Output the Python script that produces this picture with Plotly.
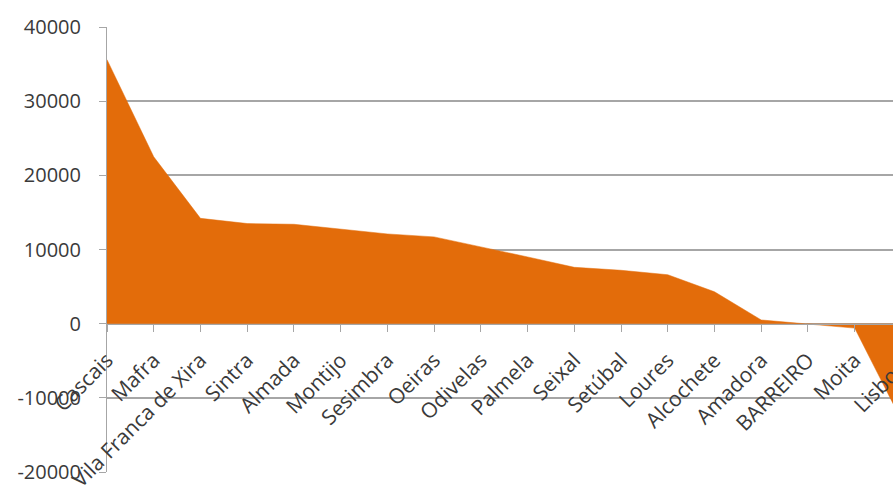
import plotly.graph_objects as go

categories = ["Cascais", "Mafra", "Vila Franca de Xira", "Sintra", "Almada", "Montijo",
              "Sesimbra", "Oeiras", "Odivelas", "Palmela", "Seixal", "Setúbal", "Loures",
              "Alcochete", "Amadora", "BARREIRO", "Moita", "Lisboa"]
values = [35600, 22500, 14200, 13500, 13400, 12700, 12100, 11700, 10400, 9000,
          7600, 7200, 6600, 4300, 500, -100, -600, -13000]
y_ticks = [-20000, -10000, 0, 10000, 20000, 30000, 40000]

orange = "#E36C0A"
grid = "#A6A6A6"
txt = "#3a3a3a"
x_max = 16.82

fig = go.Figure()
fig.add_trace(go.Scatter(
    x=categories, y=values, mode="lines", fill="tozeroy",
    line=dict(color=orange, width=0.5), fillcolor=orange, showlegend=False,
))

# last category label lies past the visible edge; draw it as a clipped rotated label
fig.add_annotation(
    x=(len(categories) - 1) / x_max, xref="paper", y=1/3, yref="paper",
    text=categories[-1], showarrow=False, textangle=-45,
    xanchor="center", yanchor="middle", xshift=-22, yshift=-62,
    font=dict(size=21, color=txt, family="Open Sans"),
)

fig.update_layout(
    width=893, height=491,
    margin=dict(l=107, r=0, t=27, b=19),
    paper_bgcolor="white", plot_bgcolor="white",
    font=dict(family="Open Sans", color=txt),
    xaxis=dict(
        type="category", range=[0, x_max], anchor="free", position=1/3,
        showgrid=False, showline=True, linecolor=grid, linewidth=1,
        ticks="outside", ticklen=7, tickcolor=grid, tickangle=-45,
        ticklabelstandoff=8,
        tickfont=dict(size=21, color=txt), automargin=False,
    ),
    yaxis=dict(
        range=[-20000, 40000], tickvals=y_ticks, ticktext=[str(v) for v in y_ticks],
        showgrid=True, gridcolor=grid, gridwidth=2, zeroline=False,
        showline=True, linecolor=grid, linewidth=1,
        ticks="outside", ticklen=7, tickcolor=grid, ticklabelstandoff=14,
        tickfont=dict(size=20, color=txt), automargin=False,
    ),
)

fig.write_html("out.html")
